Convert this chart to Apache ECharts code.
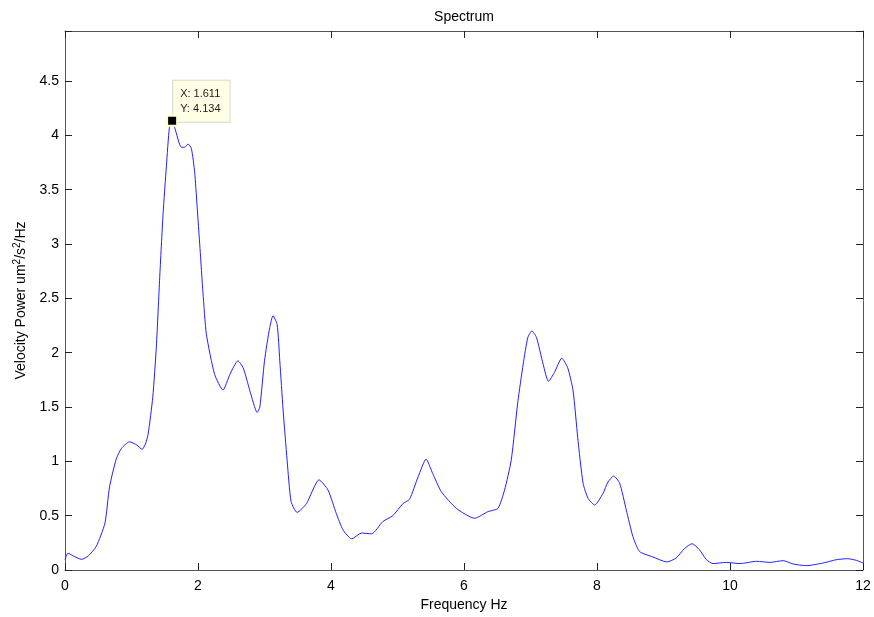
<!DOCTYPE html>
<html>
<head>
<meta charset="utf-8">
<title>Spectrum</title>
<script src="https://cdn.jsdelivr.net/npm/echarts@6/dist/echarts.min.js"></script>
<style>
html, body { margin: 0; padding: 0; background: #fff; }
#chart { width: 874px; height: 617px; }
</style>
</head>
<body>
<div id="chart"></div>
<script>
// 频率 (Hz)
var freq = [0.00, 0.045, 0.12, 0.25, 0.35, 0.47, 0.60, 0.67, 0.77, 0.85, 0.97, 1.08, 1.16, 1.21, 1.25, 1.32,
	1.374, 1.424, 1.474, 1.525, 1.57, 1.611, 1.65, 1.75, 1.80, 1.85, 1.90, 1.95, 1.985, 2.03, 2.075, 2.126,
	2.25, 2.376, 2.48, 2.60, 2.68, 2.78, 2.89, 2.93, 3.00, 3.078, 3.128, 3.19, 3.23, 3.28, 3.34, 3.40,
	3.49, 3.63, 3.82, 3.955, 4.08, 4.18, 4.31, 4.46, 4.61, 4.78, 4.93, 5.08, 5.18, 5.31, 5.43, 5.53,
	5.66, 5.885, 6.16, 6.36, 6.51, 6.61, 6.71, 6.81, 6.89, 6.96, 7.02, 7.09, 7.19, 7.27, 7.36, 7.47,
	7.56, 7.64, 7.71, 7.79, 7.865, 7.965, 8.09, 8.165, 8.25, 8.34, 8.44, 8.54, 8.64, 8.84, 9.05, 9.19,
	9.32, 9.43, 9.54, 9.645, 9.745, 9.945, 10.15, 10.40, 10.60, 10.80, 10.95, 11.15, 11.40, 11.60, 11.77,
	11.90, 12.00];
// 速度功率 um^2/s^2/Hz
var power = [0.095, 0.155, 0.13, 0.098, 0.13, 0.217, 0.43, 0.766, 1.02, 1.12, 1.18, 1.15, 1.11, 1.16, 1.25, 1.59,
	2.06, 2.69, 3.27, 3.72, 4.07, 4.134, 4.07, 3.89, 3.89, 3.92, 3.88, 3.66, 3.36, 2.96, 2.55, 2.17,
	1.80, 1.656, 1.80, 1.925, 1.86, 1.65, 1.45, 1.50, 1.925, 2.23, 2.34, 2.26, 1.925, 1.47, 1.01, 0.63,
	0.53, 0.61, 0.83, 0.736, 0.52, 0.37, 0.287, 0.34, 0.333, 0.446, 0.50, 0.61, 0.65, 0.857, 1.02, 0.887,
	0.72, 0.567, 0.476, 0.537, 0.567, 0.736, 1.01, 1.55, 1.894, 2.14, 2.20, 2.14, 1.894, 1.736, 1.818, 1.949,
	1.86, 1.65, 1.22, 0.80, 0.66, 0.598, 0.704, 0.81, 0.864, 0.80, 0.553, 0.308, 0.17, 0.12, 0.074, 0.11,
	0.20, 0.242, 0.187, 0.095, 0.059, 0.07, 0.059, 0.08, 0.07, 0.086, 0.055, 0.04, 0.064, 0.095, 0.104,
	0.089, 0.064];
// 数据提示点
var tipPoint = [1.611, 4.134];

var xMin = 0, xMax = 12, xStep = 2;
var yMin = 0, yMax = 4.96, yStep = 0.5;

var lineData = [];
for (var i = 0; i < freq.length; i++) {
	lineData.push([freq[i], power[i]]);
}

var font = 'Liberation Sans, Arial, sans-serif';
var axisColor = '#555';

function baseAxis() {
	return {
		type: 'value',
		axisLine: { show: true, onZero: false, lineStyle: { color: axisColor, width: 1 } },
		axisTick: { show: true, inside: true, length: 7, lineStyle: { color: '#222' } },
		splitLine: { show: false }
	};
}

var xBottom = baseAxis();
xBottom.position = 'bottom';
xBottom.min = xMin; xBottom.max = xMax; xBottom.interval = xStep;
xBottom.name = 'Frequency Hz';
xBottom.nameLocation = 'middle';
xBottom.nameGap = 28;
xBottom.nameTextStyle = { color: '#000', fontSize: 14, fontFamily: font };
xBottom.axisLabel = { color: '#000', fontSize: 14, fontFamily: font, margin: 9 };

var xTop = baseAxis();
xTop.position = 'top';
xTop.min = xMin; xTop.max = xMax; xTop.interval = xStep;
xTop.axisLabel = { show: false };

var yLeft = baseAxis();
yLeft.position = 'left';
yLeft.min = yMin; yLeft.max = yMax; yLeft.interval = yStep;
yLeft.name = 'Velocity Power um{sup|2}/s{sup|2}/Hz';
yLeft.nameLocation = 'middle';
yLeft.nameGap = 33;
yLeft.nameRotate = 90;
yLeft.nameTextStyle = {
	color: '#000', fontSize: 14, fontFamily: font,
	rich: { sup: { fontSize: 10, fontFamily: font, color: '#000', verticalAlign: 'bottom', padding: [0, 0, 9, 0] } }
};
yLeft.axisLabel = {
	color: '#000', fontSize: 14, fontFamily: font, margin: 6,
	formatter: function(v) { return v > 4.6 ? '' : String(v); }
};

var yRight = baseAxis();
yRight.position = 'right';
yRight.min = yMin; yRight.max = yMax; yRight.interval = yStep;
yRight.axisLabel = { show: false };

var chart = echarts.init(document.getElementById('chart'));
var option = {
	animation: false,
	backgroundColor: '#fff',
	title: {
		text: 'Spectrum',
		left: 459, top: 5, textAlign: 'center',
		textStyle: { color: '#000', fontSize: 14, fontWeight: 'normal', fontFamily: font }
	},
	grid: { left: 65, right: 11, top: 31, bottom: 43, containLabel: false },
	xAxis: [xBottom, xTop],
	yAxis: [yLeft, yRight],
	series: [{
		name: 'spectrum',
		type: 'line',
		xAxisIndex: 0,
		yAxisIndex: 0,
		data: lineData,
		showSymbol: false,
		smooth: 0.2,
		lineStyle: { color: '#2020ff', width: 1 },
		z: 2
	}, {
		// 提示框
		name: 'datatipLabel',
		type: 'scatter',
		data: [tipPoint],
		symbol: 'rect',
		symbolSize: 10,
		itemStyle: { color: 'rgba(0,0,0,0)', opacity: 1 },
		label: {
			show: true,
			position: [6, -35],
			align: 'left',
			verticalAlign: 'top',
			formatter: 'X: ' + tipPoint[0] + '\nY: ' + tipPoint[1],
			color: '#222',
			fontSize: 11,
			lineHeight: 14.5,
			fontFamily: font,
			backgroundColor: '#ffffe6',
			borderColor: '#d8d8c8',
			borderWidth: 1,
			padding: [6, 9, 6, 7]
		},
		silent: true,
		z: 4
	}, {
		// 标记点
		name: 'datatip',
		type: 'scatter',
		data: [tipPoint],
		symbol: 'rect',
		symbolSize: 10,
		itemStyle: { color: '#000', borderColor: '#ffffcc', borderWidth: 2, opacity: 1 },
		label: { show: false },
		silent: true,
		z: 6
	}]
};
chart.setOption(option);
</script>
</body>
</html>
